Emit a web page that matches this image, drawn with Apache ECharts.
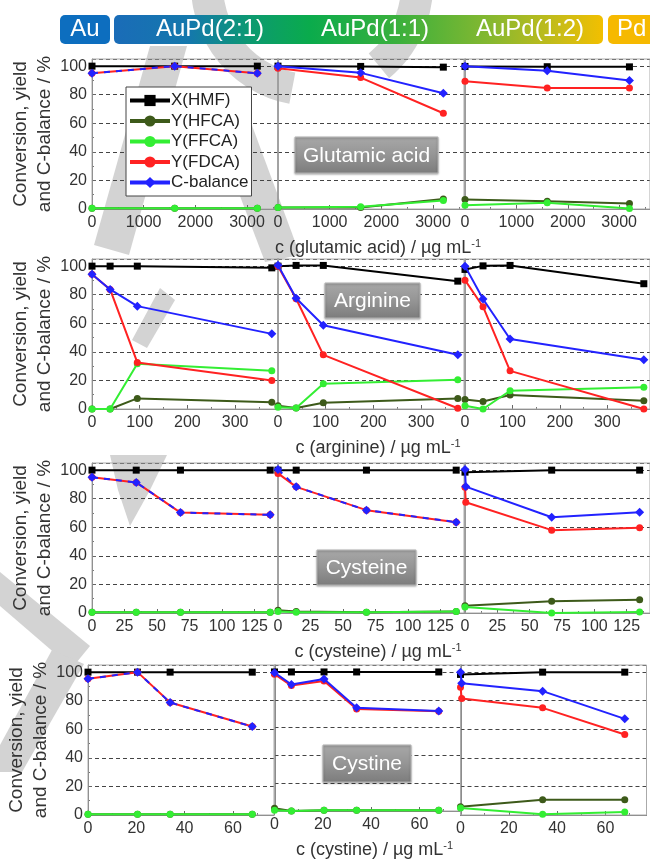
<!DOCTYPE html>
<html><head><meta charset="utf-8">
<script src="https://cdn.jsdelivr.net/npm/echarts@6/dist/echarts.min.js"></script>
<style>html,body{margin:0;padding:0;background:#fff}#c{width:650px;height:861px}</style>
</head><body><div id="c"></div>
<script>
// ---------- DATA ----------
const seriesNames = ['X(HMF)','Y(HFCA)','Y(FFCA)','Y(FDCA)','C-balance'];
const catalysts = ['Au','AuPd(2:1)','AuPd(1:1)','AuPd(1:2)','Pd'];
const additiveNames = ['Glutamic acid','Arginine','Cysteine','Cystine'];
const axisTitles = ['c (glutamic acid) / µg mL','c (arginine) / µg mL','c (cysteine) / µg mL','c (cystine) / µg mL'];
const yTitle = 'Conversion, yield\nand C-balance / %';

// Row 1: glutamic acid
const glutConc = [0,1600,3200];
const glut21_X = [100,100,100], glut21_HFCA = [0.5,0.5,0.5], glut21_FFCA = [0.5,0.5,0.5], glut21_FDCA = [95,100,95], glut21_C = [95,100,95];
const glut11_X = [100,99.8,99.3], glut11_HFCA = [1,1,7], glut11_FFCA = [1,1.5,6], glut11_FDCA = [98.6,92,67], glut11_C = [100,95.3,81];
const glut12_X = [99.8,99.6,99.5], glut12_HFCA = [6.6,5.4,3.8], glut12_FFCA = [2.6,4.3,0.3], glut12_FDCA = [89.4,84.7,84.7], glut12_C = [100,96.7,90];

// Row 2: arginine
const argConc = [0,38,95,377];
const arg21_X = [100,100,100,98.8], arg21_HFCA = [0,0,7.4,4.7], arg21_FFCA = [0,0,31.6,26.7], arg21_FDCA = [94.4,83.7,32.6,20], arg21_C = [94.4,83.7,72,52.6];
const arg11_X = [100,100.5,100.5,89.5], arg11_HFCA = [2.3,0.7,4.4,7.3], arg11_FFCA = [1.3,0.7,17.7,20.5], arg11_FDCA = [100,77.2,37.9,0.5], arg11_C = [100.7,77.5,58.6,38];
const arg12_X = [97.7,100.2,100.5,87.7], arg12_HFCA = [6.7,5.3,9.8,5.8], arg12_FFCA = [2.3,0,12.8,15.3], arg12_FDCA = [90.2,71.6,26.7,0], arg12_C = [100,77,49,34.4];

// Row 3: cysteine
const cys21Conc = [0,34,68,137];
const cys21_X = [100,100,100,100], cys21_HFCA = [0.5,0.5,0.5,0.5], cys21_FFCA = [0.5,0.5,0.5,0.5], cys21_FDCA = [95,91.4,70.3,68.7], cys21_C = [95,91.4,70.3,68.7];
const cys11Conc = [0,14,68,137];
const cys11_X = [100,100,100,100], cys11_HFCA = [2,1,0.5,1], cys11_FFCA = [1,0.5,0.5,1], cys11_FDCA = [97.7,88.3,72,63.6], cys11_C = [100.5,88.3,72,63.6];
const cys12Conc = [0,67,135], cys12ConcB = [0,0.6,67,135];
const cys12_X = [98.6,100,100], cys12_HFCA = [5.1,8.2,9.3], cys12_FFCA = [4.2,0,0.7], cys12_FDCA = [88,77.5,58,59.6], cys12_C = [100.5,88.5,67,70.6];

// Row 4: cystine
const cyst21Conc = [0,20.5,34,68];
const cyst21_X = [100,100,100,100], cyst21_HFCA = [0.5,0.5,0.5,0.5], cyst21_FFCA = [0.5,0.5,0.5,0.5], cyst21_FDCA = [95.3,100,78.7,61.9], cyst21_C = [95.3,100,78.7,61.9];
const cyst11Conc = [0,7,20.5,34,68];
const cyst11_X = [100,100,100,100,100], cyst11_HFCA = [1.9,0,0.5,0.5,0.5], cyst11_FFCA = [0.5,0,0.5,0.5,0.5], cyst11_FDCA = [98.4,90.2,93.5,73.4,71.7], cyst11_C = [99.5,91,95,74.3,72];
const cyst12Conc = [0,34,68], cyst12ConcB = [0,0.5,34,68];
const cyst12_X = [98.4,100,100], cyst12_HFCA = [5.8,10.7,10.7], cyst12_FFCA = [4.9,0.5,2.1], cyst12_FDCA = [89.5,81.5,75,56.3], cyst12_C = [100,92.3,86.7,67.3];

// x axis extents per row
const xMax = [3600,390,143,77];
const xInterval = [1000,100,25,20];
const yMax = 105, yInterval = 20;

// ---------- BUILD ----------
const FONT = '"Liberation Sans", Arial, Helvetica, sans-serif';
const colors = ['#000000','#3d5a1a','#33ee33','#ff2222','#2222ff'];
const symbols = ['rect','circle','circle','circle','diamond'];
const symSizes = [7,7,7,7,9];

const panels = [
  {r:0,c:0,x:[glutConc,glutConc,glutConc,glutConc,glutConc],y:[glut21_X,glut21_HFCA,glut21_FFCA,glut21_FDCA,glut21_C],dash:true},
  {r:0,c:1,x:[glutConc,glutConc,glutConc,glutConc,glutConc],y:[glut11_X,glut11_HFCA,glut11_FFCA,glut11_FDCA,glut11_C]},
  {r:0,c:2,x:[glutConc,glutConc,glutConc,glutConc,glutConc],y:[glut12_X,glut12_HFCA,glut12_FFCA,glut12_FDCA,glut12_C]},
  {r:1,c:0,x:[argConc,argConc,argConc,argConc,argConc],y:[arg21_X,arg21_HFCA,arg21_FFCA,arg21_FDCA,arg21_C]},
  {r:1,c:1,x:[argConc,argConc,argConc,argConc,argConc],y:[arg11_X,arg11_HFCA,arg11_FFCA,arg11_FDCA,arg11_C]},
  {r:1,c:2,x:[argConc,argConc,argConc,argConc,argConc],y:[arg12_X,arg12_HFCA,arg12_FFCA,arg12_FDCA,arg12_C]},
  {r:2,c:0,x:[cys21Conc,cys21Conc,cys21Conc,cys21Conc,cys21Conc],y:[cys21_X,cys21_HFCA,cys21_FFCA,cys21_FDCA,cys21_C],dash:true},
  {r:2,c:1,x:[cys11Conc,cys11Conc,cys11Conc,cys11Conc,cys11Conc],y:[cys11_X,cys11_HFCA,cys11_FFCA,cys11_FDCA,cys11_C],dash:true},
  {r:2,c:2,x:[cys12Conc,cys12Conc,cys12Conc,cys12ConcB,cys12ConcB],y:[cys12_X,cys12_HFCA,cys12_FFCA,cys12_FDCA,cys12_C]},
  {r:3,c:0,x:[cyst21Conc,cyst21Conc,cyst21Conc,cyst21Conc,cyst21Conc],y:[cyst21_X,cyst21_HFCA,cyst21_FFCA,cyst21_FDCA,cyst21_C],dash:true},
  {r:3,c:1,x:[cyst11Conc,cyst11Conc,cyst11Conc,cyst11Conc,cyst11Conc],y:[cyst11_X,cyst11_HFCA,cyst11_FFCA,cyst11_FDCA,cyst11_C]},
  {r:3,c:2,x:[cyst12Conc,cyst12Conc,cyst12Conc,cyst12ConcB,cyst12ConcB],y:[cyst12_X,cyst12_HFCA,cyst12_FFCA,cyst12_FDCA,cyst12_C]}
];

const rowTops = [59,259,463,665];
const colLefts = [[92,278,465],[92,278,465],[92,278,465],[88,274.5,460.5]];
const W = 186, H = 150;

const grid = [], xAxis = [], yAxis = [], series = [];
panels.forEach((p,i)=>{
  grid.push({left:colLefts[p.r][p.c], top:rowTops[p.r], width:W, height:H, show:true, borderColor:'#aaa', borderWidth:1, backgroundColor:'transparent', z:2});
  xAxis.push({
    gridIndex:i, type:'value', min:0, max:xMax[p.r], interval:xInterval[p.r],
    axisLine:{show:true, onZero:false, lineStyle:{color:'#777', width:1}},
    axisTick:{show:true, inside:true, length:4, lineStyle:{color:'#666'}},
    minorTick:{show:true, splitNumber:2, length:2, lineStyle:{color:'#777'}},
    axisLabel:{fontSize:16, color:'#333', fontFamily:FONT, margin:6, showMaxLabel:false, formatter:(v)=>String(v)},
    splitLine:{show:false},
    name: p.c===1 ? axisTitles[p.r] + '{s|-1}' : '',
    nameLocation:'middle', nameGap:29,
    nameTextStyle:{fontSize:18, color:'#333', fontFamily:FONT, lineHeight:20, padding:[0,0,0,14],
      rich:{s:{fontSize:11, color:'#333', fontFamily:FONT, verticalAlign:'top', lineHeight:12}}}
  });
  yAxis.push({
    gridIndex:i, type:'value', min:0, max:yMax, interval:yInterval,
    axisLine:{show:true, lineStyle:{color: p.c===0 ? '#777' : '#666', width: p.c===0 ? 1 : 1.5}},
    axisTick:{show:p.c===0, inside:true, length:4, lineStyle:{color:'#666'}},
    minorTick:{show:p.c===0, splitNumber:2, length:2, lineStyle:{color:'#777'}},
    axisLabel:{show:p.c===0, fontSize:16, color:'#333', fontFamily:FONT, margin:5, showMaxLabel:false},
    splitLine:{show:true, lineStyle:{type:[4,3], color:'#444', width:1}},
    name: p.c===0 ? yTitle : '', nameLocation:'middle', nameRotate:90, nameGap:28,
    nameTextStyle:{fontSize:19, lineHeight:24, color:'#333', fontFamily:FONT}
  });
  for (let k=0;k<5;k++){
    const xs = p.x[k], ys = p.y[k];
    series.push({
      type:'line', name:seriesNames[k], xAxisIndex:i, yAxisIndex:i,
      data: xs.map((v,j)=>[v, ys[j]]),
      symbol:symbols[k], symbolSize:symSizes[k], showSymbol:true,
      lineStyle:{color:colors[k], width:2, type: (k===4 && p.dash) ? [6,6] : 'solid'},
      itemStyle:{color:colors[k]},
      z: 3+k, animation:false, clip:false
    });
  }
});

// Graphic: header band, panel labels, faint background watermark
const bandGrad = new echarts.graphic.LinearGradient(0,0,1,0,[
  {offset:0,color:'#1a6cb8'},{offset:0.155,color:'#1478ac'},{offset:0.28,color:'#0c9a70'},
  {offset:0.4,color:'#0aab4c'},{offset:0.585,color:'#3cb03c'},{offset:0.77,color:'#86b830'},
  {offset:0.91,color:'#c8bc18'},{offset:1,color:'#f2bf00'}]);
const boxGrad = () => new echarts.graphic.LinearGradient(0,0,0,1,[
  {offset:0,color:'#a8a8a8'},{offset:0.5,color:'#959595'},{offset:1,color:'#7c7c7c'}]);
const hdrText = (t,x,align) => ({type:'text', x:x, y:29.5, style:{text:t, fill:'#fff', font:'24px '+FONT, textAlign:align||'center', textVerticalAlign:'middle'}, zlevel:1, z:20});
const labelBox = (t,x,y,w,h) => ([
  {type:'rect', shape:{x:x,y:y,width:w,height:h}, style:{fill:boxGrad(), stroke:'#b5b5b5', lineWidth:1, shadowBlur:2, shadowColor:'rgba(0,0,0,0.3)', shadowOffsetY:1}, z:20},
  {type:'text', x:x+w/2, y:y+h/2+1, style:{text:t, fill:'#fff', font:'21px '+FONT, textAlign:'center', textVerticalAlign:'middle'}, z:21}
]);
const WM = '#d3d3d3';
const wm = (pts) => ({type:'polygon', shape:{points:pts}, style:{fill:WM}, z:-10, silent:true});
const watermark = [
  {type:'arc', shape:{cx:312, cy:-15, r:105, startAngle:Math.PI*0.56, endAngle:Math.PI*1.1}, style:{stroke:WM, lineWidth:32, fill:null}, z:-10, silent:true},
  {type:'arc', shape:{cx:312, cy:-15, r:105, startAngle:-0.2, endAngle:Math.PI*0.28}, style:{stroke:WM, lineWidth:32, fill:null}, z:-10, silent:true},
  wm([[187,46],[129,255],[94,245],[150,46]]),
  wm([[215,130],[250,120],[300,255],[265,262]]),
  wm([[132,340],[147,348],[175,300],[160,288]]),
  wm([[110,455],[167,455],[150,490],[130,526],[118,490]]),
  wm([[0,572],[0,606],[72,668],[90,646]]),
  wm([[52,650],[84,664],[22,772],[0,772],[0,745]])
];

const graphic = [
  ...watermark,
  {type:'rect', shape:{x:60,y:15,width:50,height:29,r:5}, style:{fill:'#0d6ebf'}, zlevel:1, z:19},
  {type:'rect', shape:{x:114,y:15,width:489,height:29,r:5}, style:{fill:bandGrad}, zlevel:1, z:19},
  {type:'rect', shape:{x:608,y:15,width:70,height:29,r:5}, style:{fill:'#f6b900'}, zlevel:1, z:19},
  hdrText(catalysts[0],85), hdrText(catalysts[1],210), hdrText(catalysts[2],375), hdrText(catalysts[3],530), hdrText(catalysts[4],617,'left'),
  ...labelBox(additiveNames[0],295,137,143,36),
  ...labelBox(additiveNames[1],325,283,95,35),
  ...labelBox(additiveNames[2],317,550,99,35),
  ...labelBox(additiveNames[3],323,745,88,37)
];

const option = {
  backgroundColor:'#fff',
  animation:false,
  textStyle:{fontFamily:FONT},
  grid, xAxis, yAxis, series, graphic,
  legend:{
    data:seriesNames, orient:'vertical', left:126, top:87,
    itemWidth:40, itemHeight:14, itemGap:3.5,
    padding:[5,3,5,2], borderColor:'#444', borderWidth:1, backgroundColor:'#fff',
    lineStyle:{type:'solid', width:4},
    textStyle:{fontSize:17, color:'#222', fontFamily:FONT, padding:[0,0,0,-4]},
    selectedMode:false, z:30
  }
};
const chart = echarts.init(document.getElementById('c'));
chart.setOption(option);
</script></body></html>
